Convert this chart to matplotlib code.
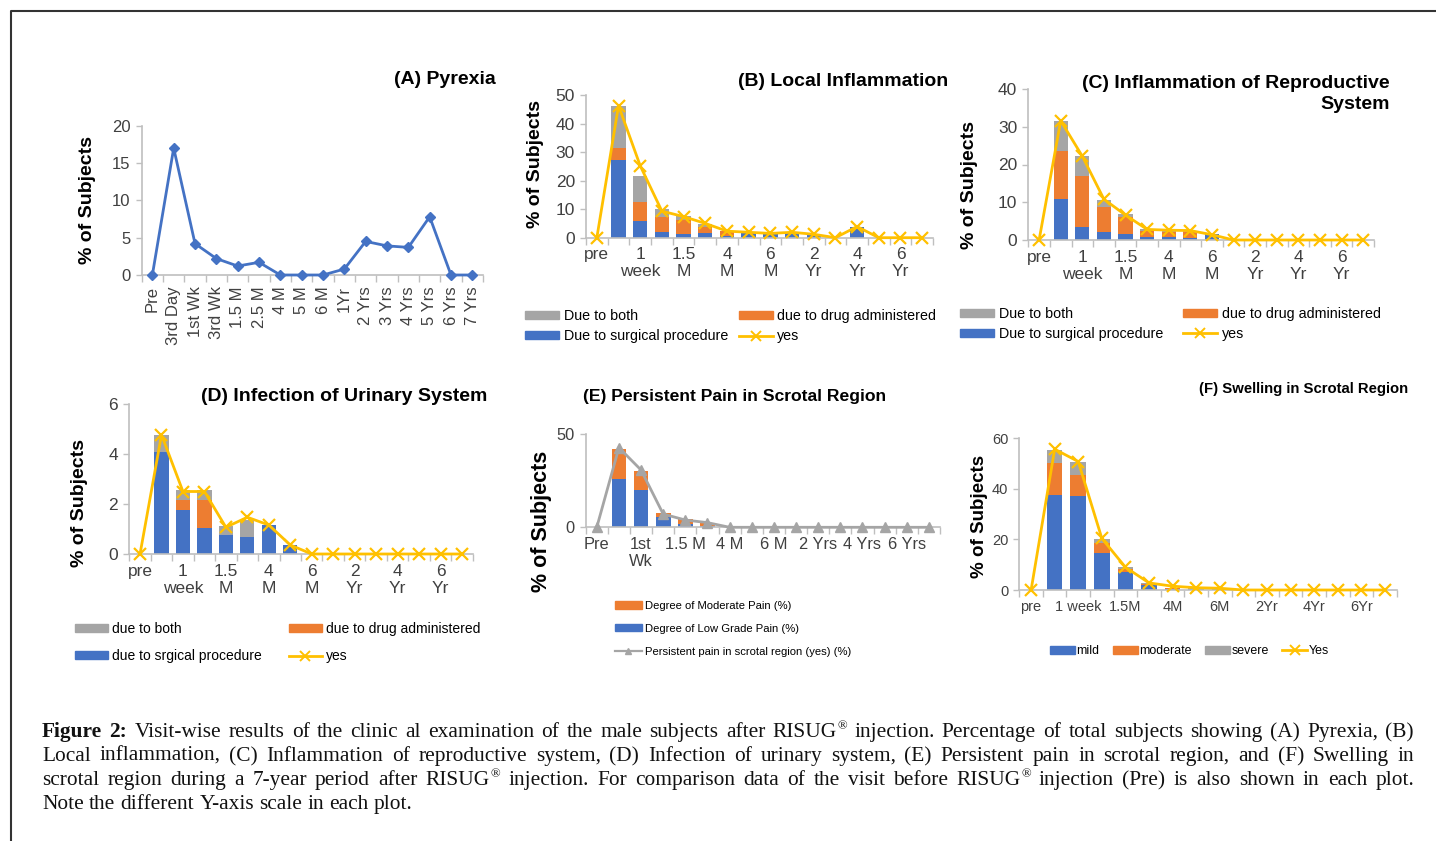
import matplotlib
matplotlib.use("Agg")
import matplotlib.pyplot as plt
import numpy as np
from matplotlib import font_manager
from matplotlib.lines import Line2D
from matplotlib.patches import Patch
from matplotlib.transforms import IdentityTransform

W, H = 1436, 841

BLUE = "#4472C4"
ORANGE = "#ED7D31"
GREY = "#A5A5A5"
YELLOW = "#FFC000"
AXIS = "#BFBFBF"
TICK_TEXT = "#404040"

SANS = "Liberation Sans"
SERIF = "Liberation Serif"
_installed = {f.name for f in font_manager.fontManager.ttflist}
HAS_NARROW = "Liberation Sans Narrow" in _installed
NARROW = "Liberation Sans Narrow" if HAS_NARROW else SANS
# a regular-width face needs smaller sizes to fill the same space
NARROW_SCALE = 1.0 if HAS_NARROW else 0.84

# ---------------- data ----------------
pyrexia_visits = ["Pre", "3rd Day", "1st Wk", "3rd Wk", "1.5 M", "2.5 M", "4 M", "5 M",
                  "6 M", "1Yr", "2 Yrs", "3 Yrs", "4 Yrs", "5 Yrs", "6 Yrs", "7 Yrs"]
pyrexia = [0, 17.0, 4.2, 2.2, 1.2, 1.7, 0, 0, 0, 0.8, 4.5, 3.9, 3.7, 7.8, 0, 0]

# every other visit is labelled on the bar panels
visits_short = ["pre", "", "1\nweek", "", "1.5\nM", "", "4\nM", "", "6\nM", "",
                "2\nYr", "", "4\nYr", "", "6\nYr", ""]
visits_pain = ["Pre", "", "1st\nWk", "", "1.5 M", "", "4 M", "", "6 M", "",
               "2 Yrs", "", "4 Yrs", "", "6 Yrs", ""]
visits_swell = ["pre", "", "1 week", "", "1.5M", "", "4M", "", "6M", "",
                "2Yr", "", "4Yr", "", "6Yr", ""]

local_surgical = [0, 27.2, 6.0, 2.0, 1.2, 1.6, 0.6, 1.5, 1.5, 1.5, 1.2, 0, 3.9, 0, 0, 0]
local_drug = [0, 4.3, 6.6, 5.4, 5.0, 2.3, 1.7, 0.2, 0, 0, 0, 0, 0, 0, 0, 0]
local_both = [0, 14.8, 9.1, 2.5, 1.5, 0.8, 0, 0.2, 0.3, 0.3, 0, 0, 0, 0, 0, 0]
local_yes = [0, 46.3, 25.2, 9.3, 7.4, 5.0, 2.3, 1.9, 1.5, 1.9, 1.2, 0, 3.9, 0, 0, 0]

repro_surgical = [0, 10.8, 3.5, 2.2, 1.7, 0.9, 0.9, 0.5, 1.5, 0, 0, 0, 0, 0, 0, 0]
repro_drug = [0, 12.9, 13.4, 6.5, 4.3, 1.5, 1.1, 1.7, 0, 0, 0, 0, 0, 0, 0, 0]
repro_both = [0, 7.9, 5.3, 1.8, 0.9, 0.6, 0.6, 0.3, 0, 0, 0, 0, 0, 0, 0, 0]
repro_yes = [0, 31.6, 22.2, 10.8, 6.6, 2.8, 2.6, 2.5, 1.4, 0, 0, 0, 0, 0, 0, 0]

urinary_surgical = [0, 4.07, 1.76, 1.04, 0.77, 0.67, 1.16, 0.36, 0, 0, 0, 0, 0, 0, 0, 0]
urinary_drug = [0, 0, 0.40, 1.12, 0, 0, 0, 0, 0, 0, 0, 0, 0, 0, 0, 0]
urinary_both = [0, 0.70, 0.41, 0.41, 0.36, 0.70, 0, 0, 0, 0, 0, 0, 0, 0, 0, 0]
urinary_yes = [0, 4.77, 2.5, 2.5, 1.07, 1.47, 1.16, 0.36, 0, 0, 0, 0, 0, 0, 0, 0]

pain_low = [0, 25.9, 20.0, 5.7, 1.8, 0.9, 0, 0, 0, 0, 0, 0, 0, 0, 0, 0]
pain_moderate = [0, 16.1, 10.4, 2.2, 2.5, 1.6, 0, 0, 0, 0, 0, 0, 0, 0, 0, 0]
pain_yes = [0, 42.7, 30.7, 7.1, 3.9, 2.5, 0, 0, 0, 0, 0, 0, 0, 0, 0, 0]

swell_mild = [0, 37.6, 37.2, 14.8, 7.1, 2.0, 0.3, 0.3, 0.3, 0, 0, 0, 0, 0, 0, 0]
swell_moderate = [0, 12.8, 8.2, 3.9, 1.3, 0.3, 0.3, 0.2, 0.2, 0, 0, 0, 0, 0, 0, 0]
swell_severe = [0, 5.0, 5.1, 1.5, 0.5, 0.5, 0.3, 0.2, 0.2, 0, 0, 0, 0, 0, 0, 0]
swell_yes = [0, 55.7, 50.8, 20.4, 9.0, 2.8, 1.5, 0.9, 0.7, 0, 0, 0, 0, 0, 0, 0]

caption_lines = [
    "Figure 2: Visit-wise results of the clinic al examination of the male subjects after "
    "RISUG® injection. Percentage of total subjects showing (A) Pyrexia, (B)",
    "Local inflammation, (C) Inflammation of reproductive system, (D) Infection of urinary "
    "system, (E) Persistent pain in scrotal region, and (F) Swelling in",
    "scrotal region during a 7-year period after RISUG® injection. For comparison data of "
    "the visit before RISUG® injection (Pre) is also shown in each plot.",
    "Note the different Y-axis scale in each plot.",
]

fig = plt.figure(figsize=(W / 100, H / 100), dpi=100)
fig.patch.set_facecolor("white")


def fx(x):
    return x / W


def fy(y):
    return 1 - y / H


def axes_px(left, top, right, bottom):
    return fig.add_axes([fx(left), fy(bottom), (right - left) / W, (bottom - top) / H])


def category_axis(ax, labels, ymax, ystep, fs, family=SANS, rotate=False):
    n = len(labels)
    ax.set_xlim(-0.5, n - 0.5)
    ax.set_ylim(0, ymax)
    ax.set_yticks(np.arange(0, ymax + ystep / 2, ystep))
    ax.set_xticks(range(n))
    ax.set_xticklabels(labels, rotation=90 if rotate else 0, linespacing=1.15)
    ax.set_xticks(np.arange(-0.5, n, 1), minor=True)
    for s in ["top", "right"]:
        ax.spines[s].set_visible(False)
    for s in ["left", "bottom"]:
        ax.spines[s].set_color(AXIS)
        ax.spines[s].set_linewidth(1.2)
    ax.tick_params(axis="x", which="major", length=0, pad=7 if not rotate else 8,
                   labelsize=fs, labelcolor=TICK_TEXT, labelfontfamily=family)
    ax.tick_params(axis="x", which="minor", length=5, color=AXIS, width=1)
    ax.tick_params(axis="y", length=4, color=AXIS, width=1, pad=4,
                   labelsize=fs, labelcolor=TICK_TEXT, labelfontfamily=family)
    ax.patch.set_alpha(0)


def stacked_bars(ax, layers, colors, width=0.66):
    x = np.arange(len(layers[0]))
    bottom = np.zeros(len(x))
    for vals, c in zip(layers, colors):
        ax.bar(x, vals, width, bottom=bottom, color=c, linewidth=0, zorder=2)
        bottom += np.asarray(vals, dtype=float)


def yes_line(ax, vals, color=YELLOW, marker="x", ms=9):
    ax.plot(np.arange(len(vals)), vals, color=color, lw=2, marker=marker, ms=ms,
            mew=1.6, clip_on=False, zorder=3)


def title(x, y, text, ha="right", size=14, family=SANS):
    fig.text(fx(x), fy(y), text, ha=ha, va="center", fontsize=size, weight="bold",
             family=family, color="black", multialignment="right", linespacing=1.35)


def ylabel(x, y, size=14):
    fig.text(fx(x), fy(y), "% of Subjects", rotation=90, ha="center", va="center",
             fontsize=size, weight="bold", family=SANS, color="black")


def cause_legend(ax, x, y, labels, spacing, colspace, fs=10.3):
    handles = [Patch(color=GREY), Patch(color=BLUE), Patch(color=ORANGE),
               Line2D([], [], color=YELLOW, lw=2, marker="x", ms=7, mew=1.4)]
    ax.legend(handles, labels, loc="upper left", bbox_to_anchor=(fx(x), fy(y)),
              bbox_transform=fig.transFigure, ncol=2, frameon=False, borderpad=0,
              borderaxespad=0, handlelength=2.4, handleheight=0.5, handletextpad=0.3,
              labelspacing=spacing, columnspacing=colspace,
              prop={"family": SANS, "size": fs})


# ---------------- (A) Pyrexia ----------------
ax = axes_px(141.7, 125.7, 483, 275)
category_axis(ax, pyrexia_visits, 20, 5, 12, rotate=True)
ax.plot(np.arange(len(pyrexia)), pyrexia, color=BLUE, lw=2, marker="D", ms=5.5,
        clip_on=False, zorder=3)
title(496, 80, "(A) Pyrexia")
ylabel(88, 200)

# ---------------- (B) Local inflammation ----------------
ax = axes_px(586, 95, 933, 237.7)
category_axis(ax, visits_short, 50, 10, 12.5)
stacked_bars(ax, [local_surgical, local_drug, local_both], [BLUE, ORANGE, GREY])
yes_line(ax, local_yes)
title(948, 82, "(B) Local Inflammation")
ylabel(536, 164)
cause_legend(ax, 525, 309, ["Due to both", "Due to surgical procedure",
                            "due to drug administered", "yes"], 0.45, 0.75)

# ---------------- (C) Reproductive system ----------------
ax = axes_px(1028.3, 89, 1374, 240)
category_axis(ax, visits_short, 40, 10, 12.5)
stacked_bars(ax, [repro_surgical, repro_drug, repro_both], [BLUE, ORANGE, GREY])
yes_line(ax, repro_yes)
title(1390, 94, "(C) Inflammation of Reproductive\nSystem")
ylabel(970, 185)
cause_legend(ax, 960, 307, ["Due to both", "Due to surgical procedure",
                            "due to drug administered", "yes"], 0.42, 1.4)

# ---------------- (D) Urinary system ----------------
ax = axes_px(129.3, 404, 472.7, 554)
category_axis(ax, visits_short, 6, 2, 12.5)
stacked_bars(ax, [urinary_surgical, urinary_drug, urinary_both], [BLUE, ORANGE, GREY])
yes_line(ax, urinary_yes)
title(487, 397, "(D) Infection of Urinary System")
ylabel(80, 503)
cause_legend(ax, 75, 622, ["due to both", "due to srgical procedure",
                           "due to drug administered", "yes"], 0.95, 1.9, fs=10)

# ---------------- (E) Persistent pain ----------------
ax = axes_px(585.7, 434, 940, 527.3)
category_axis(ax, visits_pain, 50, 50, 14 * NARROW_SCALE, family=NARROW)
stacked_bars(ax, [pain_low, pain_moderate], [BLUE, ORANGE])
ax.plot(np.arange(len(pain_yes)), pain_yes, color=GREY, lw=2, marker="^", ms=7,
        clip_on=False, zorder=3)
title(735, 396, "(E) Persistent Pain in Scrotal Region", ha="center",
      size=15 * NARROW_SCALE, family=NARROW)
ylabel(542, 521, size=15.5)
ax.legend([Patch(color=ORANGE), Patch(color=BLUE),
           Line2D([], [], color=GREY, lw=1.6, marker="^", ms=4)],
          ["Degree of Moderate Pain (%)", "Degree of Low Grade Pain (%)",
           "Persistent pain in scrotal region (yes) (%)"],
          loc="upper left", bbox_to_anchor=(fx(615), fy(601)),
          bbox_transform=fig.transFigure, frameon=False, borderpad=0,
          borderaxespad=0, handlelength=2.4, handleheight=0.6, handletextpad=0.25,
          labelspacing=1.15, prop={"family": NARROW, "size": 9.6 * NARROW_SCALE})

# ---------------- (F) Swelling ----------------
ax = axes_px(1019.3, 438.3, 1396.7, 590)
category_axis(ax, visits_swell, 60, 20, 12.5 * NARROW_SCALE, family=NARROW)
stacked_bars(ax, [swell_mild, swell_moderate, swell_severe], [BLUE, ORANGE, GREY])
yes_line(ax, swell_yes)
title(1408, 389, "(F) Swelling in Scrotal Region", size=12.8 * NARROW_SCALE,
      family=NARROW)
ylabel(980, 516, size=13.5)
ax.legend([Patch(color=BLUE), Patch(color=ORANGE), Patch(color=GREY),
           Line2D([], [], color=YELLOW, lw=2, marker="x", ms=7, mew=1.4)],
          ["mild", "moderate", "severe", "Yes"],
          loc="upper left", bbox_to_anchor=(fx(1050), fy(645)),
          bbox_transform=fig.transFigure, ncol=4, frameon=False, borderpad=0,
          borderaxespad=0, handlelength=2.0, handleheight=0.6, handletextpad=0.12,
          columnspacing=1.1, prop={"family": NARROW, "size": 10.6 * NARROW_SCALE})

# ---------------- outer frame ----------------
fig.add_artist(Line2D([10.5, 10.5, W], [0, H - 10.5, H - 10.5],
                      transform=IdentityTransform(), color="#333333", lw=1.5))

# ---------------- caption (justified, word by word) ----------------
renderer = fig.canvas.get_renderer()
CAP_SIZE = 15.4
CAP_X0, CAP_X1 = 42, 1414
cap_baselines = [737, 761, 785, 809]


def word_pieces(word, bold):
    pieces = []
    cursor = 0.0
    parts = word.split("®")
    for i, part in enumerate(parts):
        if part:
            t = fig.text(0, 0, part, transform=IdentityTransform(), fontsize=CAP_SIZE,
                         family=SERIF, weight="bold" if bold else "normal",
                         va="baseline", color="#111111")
            pieces.append((t, cursor, 0.0))
            cursor += t.get_window_extent(renderer).width
        if i < len(parts) - 1:
            t = fig.text(0, 0, "®", transform=IdentityTransform(),
                         fontsize=CAP_SIZE * 0.6, family=SERIF, va="baseline",
                         color="#111111")
            pieces.append((t, cursor + 0.5, CAP_SIZE * 0.5))
            cursor += t.get_window_extent(renderer).width + 0.5
    return pieces, cursor


for li, (line, base) in enumerate(zip(caption_lines, cap_baselines)):
    words = line.split(" ")
    built = [word_pieces(w, li == 0 and wi < 2) for wi, w in enumerate(words)]
    total = sum(w for _, w in built)
    if li < len(caption_lines) - 1:
        gap = (CAP_X1 - CAP_X0 - total) / (len(words) - 1)
    else:
        gap = CAP_SIZE * 0.34
    x = CAP_X0
    for pieces, width in built:
        for t, dx, dy in pieces:
            t.set_position((x + dx, H - base + dy))
        x += width + gap

fig.savefig("out.png", dpi=100, facecolor="white")
